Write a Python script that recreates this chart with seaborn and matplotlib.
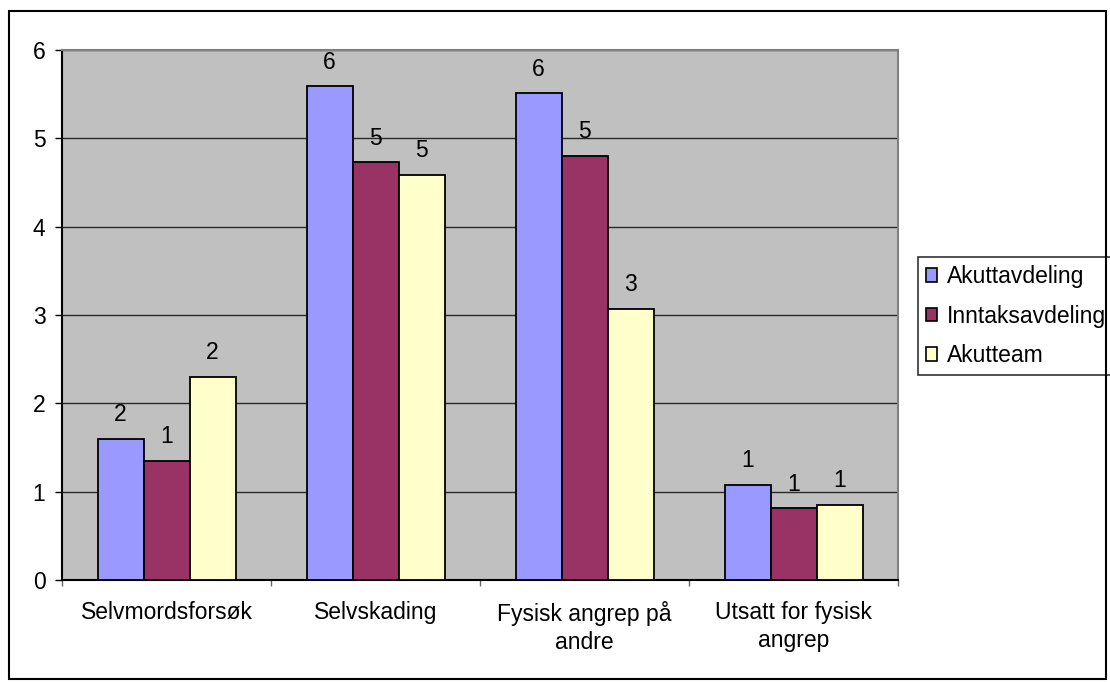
import numpy as np
import pandas as pd
import seaborn as sns
import matplotlib.pyplot as plt
import matplotlib.ticker as ticker
from matplotlib.patches import Rectangle

categories = ["Selvmordsforsøk", "Selvskading", "Fysisk angrep på\nandre", "Utsatt for fysisk\nangrep"]
series = ["Akuttavdeling", "Inntaksavdeling", "Akutteam"]
akuttavdeling = [1.60, 5.59, 5.51, 1.08]
inntaksavdeling = [1.35, 4.73, 4.80, 0.81]
akutteam = [2.30, 4.59, 3.07, 0.85]
colors = ["#9999FF", "#993366", "#FFFFCC"]

FS = 16.5


def main():
    sns.set_style("white")
    plt.rcParams['font.family'] = ['Liberation Sans', 'DejaVu Sans']
    plt.rcParams['text.color'] = 'black'
    plt.rcParams['xtick.labelcolor'] = 'black'
    plt.rcParams['ytick.labelcolor'] = 'black'

    rows = []
    for name, vals in zip(series, [akuttavdeling, inntaksavdeling, akutteam]):
        for cat, v in zip(categories, vals):
            rows.append({"Kategori": cat, "Avdeling": name, "Verdi": v})
    df = pd.DataFrame(rows)

    fig = plt.figure(figsize=(11.1, 6.82), dpi=100)
    ax = fig.add_axes([0.0559, 0.1496, 0.7532, 0.7771])
    ax.set_facecolor("#C0C0C0")

    sns.barplot(data=df, x="Kategori", y="Verdi", hue="Avdeling",
                order=categories, hue_order=series,
                palette=dict(zip(series, colors)), width=0.66,
                edgecolor="black", linewidth=1.3, saturation=1,
                errorbar=None, ax=ax, zorder=3)

    for cont in ax.containers:
        ax.bar_label(cont, fmt="%.0f", padding=9, fontsize=FS, color="black")

    ax.set_ylim(0, 6)
    ax.set_xlim(-0.5, 3.5)
    ax.yaxis.set_major_locator(ticker.MultipleLocator(1))
    ax.grid(axis="y", color="#2a2a2a", linewidth=1.0, zorder=0)
    ax.set_axisbelow(True)
    ax.set_xlabel("")
    ax.set_ylabel("")

    ax.xaxis.set_minor_locator(ticker.FixedLocator(np.arange(-0.5, 4.0, 1)))
    ax.tick_params(axis="x", which="major", length=0, pad=15, labelsize=FS)
    ax.tick_params(axis="x", which="minor", length=4.5, width=1, color="#666666",
                   direction="out", bottom=True)
    ax.tick_params(axis="y", which="major", length=5, width=1, color="black", direction="out",
                   left=True, labelsize=FS, pad=7)
    for lab in ax.get_xticklabels():
        lab.set_linespacing(1.3)

    ax.spines["left"].set_color("black")
    ax.spines["bottom"].set_color("black")
    ax.spines["top"].set_color("#808080")
    ax.spines["right"].set_color("#808080")
    for s in ax.spines.values():
        s.set_linewidth(1.5)
        s.set_visible(True)

    leg = ax.legend(loc="upper left", bbox_to_anchor=(0.827, 0.623), bbox_transform=fig.transFigure,
                    fontsize=FS, frameon=True, fancybox=False, handlelength=0.5, handleheight=0.5,
                    handletextpad=0.4, borderpad=0.35, labelspacing=0.72, borderaxespad=0)
    leg.get_frame().set_edgecolor("black")
    leg.get_frame().set_linewidth(1.2)
    for h in leg.legend_handles:
        h.set_edgecolor("black")
        h.set_linewidth(1.2)

    fig.patches.append(Rectangle((0.0085, 0.004), 0.988, 0.98, transform=fig.transFigure,
                                 fill=False, edgecolor="black", linewidth=1.5))

    fig.savefig("out.png", dpi=100)


if __name__ == "__main__":
    main()
